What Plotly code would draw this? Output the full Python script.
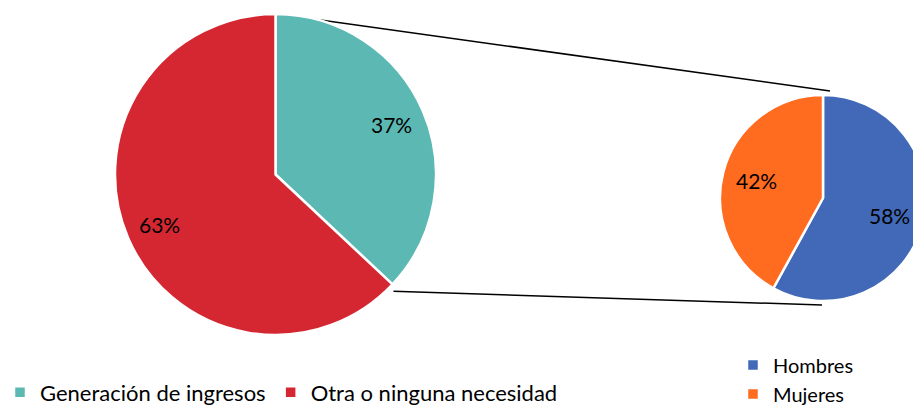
import math
import plotly.graph_objects as go

# figure is a little wider than the 913px window so the second pie is clipped
# at the right edge, as in the reference
W, H = 930, 406

# ---- data ----
main_labels = ["Generación de ingresos", "Otra o ninguna necesidad"]
main_values = [37, 63]
main_colors = ["#5CB8B3", "#D42731"]

sub_labels = ["Hombres", "Mujeres"]
sub_values = [58, 42]
sub_colors = ["#4169B7", "#FF6B1F"]

# ---- geometry (window pixels) ----
big_cx, big_cy, big_r = 275.5, 174.5, 160.5
small_cx, small_cy, small_r = 823, 198, 103


def px(x, y):
    """window pixel -> paper coordinates"""
    return x / W, 1 - y / H


def dom(cx, cy, r):
    x0, y1 = px(cx - r, cy - r)
    x1, y0 = px(cx + r, cy + r)
    return dict(x=[max(0, x0), min(1, x1)], y=[max(0, y0), min(1, y1)])


FONT = "Lato"
LBL_SIZE = 21

fig = go.Figure()
fig.add_trace(go.Pie(
    labels=main_labels, values=main_values, sort=False, direction="clockwise",
    rotation=0, domain=dom(big_cx, big_cy, big_r),
    marker=dict(colors=main_colors, line=dict(color="white", width=2.5)),
    textinfo="none", legend="legend", hoverinfo="label+percent",
))
fig.add_trace(go.Pie(
    labels=sub_labels, values=sub_values, sort=False, direction="clockwise",
    rotation=0, domain=dom(small_cx, small_cy, small_r),
    marker=dict(colors=sub_colors, line=dict(color="white", width=2.5)),
    textinfo="none", legend="legend2", hoverinfo="label+percent",
))

# percentage labels placed along each slice's bisector
annotations = []


def add_labels(values, cx, cy, r, frac):
    total = sum(values)
    start = 0.0
    for v in values:
        mid = 2 * math.pi * (start + v / 2) / total
        x = cx + frac * r * math.sin(mid)
        y = cy - frac * r * math.cos(mid)
        ax, ay = px(x, y)
        annotations.append(dict(x=ax, y=ay, xref="paper", yref="paper",
                                text=f"{round(100 * v / total)}%", showarrow=False,
                                font=dict(family=FONT, size=LBL_SIZE, color="black"),
                                xanchor="center", yanchor="middle"))
        start += v


add_labels(main_values, big_cx, big_cy, big_r, 0.79)
add_labels(sub_values, small_cx, small_cy, small_r, 0.67)

# connector lines from the big pie's split slice to the small pie
ang = 2 * math.pi * main_values[0] / sum(main_values)
p1 = (big_cx + 2, big_cy - big_r)
p2 = (big_cx + big_r * math.sin(ang) + 1, big_cy - big_r * math.cos(ang) + 7)
q1 = (small_cx + 7, small_cy - small_r - 4)
q2 = (small_cx - 1, small_cy + small_r + 4)

shapes = []
for a, b in [(p1, q1), (p2, q2)]:
    ax, ay = px(*a)
    bx, by = px(*b)
    shapes.append(dict(type="line", xref="paper", yref="paper",
                       x0=ax, y0=ay, x1=bx, y1=by,
                       line=dict(color="black", width=1.5), layer="below"))

# legend origins (window px): symbol centre at +20, text at +40
lx1, ly1 = px(0, 371.5)
lx2, ly2 = px(733, 345.5)

fig.update_layout(
    width=W, height=H, margin=dict(l=0, r=0, t=0, b=0, autoexpand=False),
    paper_bgcolor="white", plot_bgcolor="white",
    font=dict(family=FONT, size=22, color="black"),
    shapes=shapes, annotations=annotations,
    legend=dict(orientation="h", x=lx1, y=ly1, xanchor="left", yanchor="top",
                font=dict(family=FONT, size=22, color="black"),
                itemwidth=30, bgcolor="rgba(0,0,0,0)", borderwidth=0,
                tracegroupgap=0),
    legend2=dict(orientation="v", x=lx2, y=ly2, xanchor="left", yanchor="top",
                 font=dict(family=FONT, size=20, color="black"),
                 itemwidth=30, bgcolor="rgba(0,0,0,0)", borderwidth=0,
                 tracegroupgap=0),
)

fig.write_html(
    "out.html",
    config={"displayModeBar": False},
    post_script="document.body.style.margin='0';document.body.style.overflow='hidden';",
)
